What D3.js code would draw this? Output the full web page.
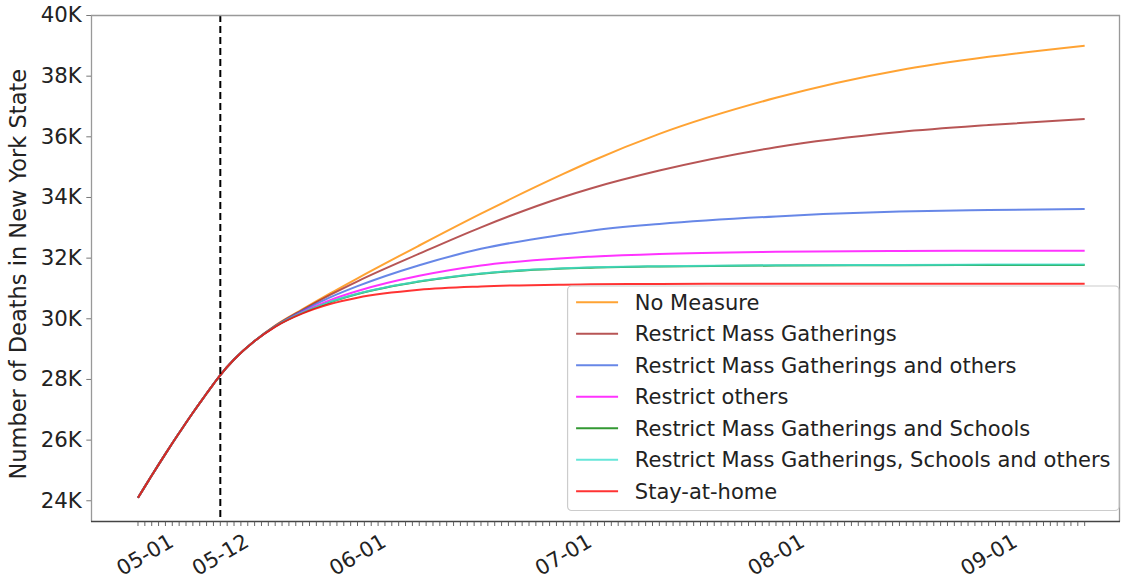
<!DOCTYPE html>
<html>
<head>
<meta charset="utf-8">
<script src="https://cdn.jsdelivr.net/npm/d3@7"></script>
<style>
  body { margin: 0; background: #fff; }
  svg text { font-family: "DejaVu Sans", sans-serif; fill: #222; }
</style>
</head>
<body>
<div id="chart"></div>
<script>
// data (deaths, daily points until 05-12 then sparser)
const commonDates = ["2020-04-30", "2020-05-01", "2020-05-02", "2020-05-03", "2020-05-04",
  "2020-05-05", "2020-05-06", "2020-05-07", "2020-05-08", "2020-05-09", "2020-05-10",
  "2020-05-11", "2020-05-12", "2020-05-14", "2020-05-17"];
const commonValues = [24080, 24450, 24815, 25175, 25530, 25880, 26220, 26555, 26885,
  27205, 27520, 27830, 28130, 28640, 29250];

const tailDates = ["2020-05-20", "2020-05-24", "2020-05-28", "2020-06-01", "2020-06-10",
  "2020-06-19", "2020-07-01", "2020-07-05", "2020-07-15", "2020-08-01", "2020-08-19",
  "2020-09-01", "2020-09-15"];

const noMeasure         = [29760, 30300, 30820, 31320, 32400, 33450, 34760, 35170, 36080, 37270, 38180, 38620, 38990];
const massGatherings    = [29750, 30280, 30770, 31220, 32130, 33000, 34000, 34280, 34870, 35640, 36140, 36370, 36570];
const massAndOthers     = [29740, 30250, 30690, 31060, 31750, 32290, 32760, 32890, 33110, 33360, 33520, 33570, 33600];
const othersOnly        = [29730, 30210, 30600, 30900, 31400, 31740, 31980, 32030, 32120, 32190, 32220, 32230, 32230];
const massAndSchools    = [29730, 30180, 30530, 30800, 31210, 31470, 31640, 31670, 31710, 31740, 31750, 31760, 31760];
const massSchoolsOthers = [29730, 30190, 30540, 30810, 31220, 31480, 31650, 31680, 31720, 31750, 31760, 31770, 31770];
const stayAtHome        = [29720, 30160, 30470, 30680, 30940, 31050, 31110, 31120, 31130, 31140, 31140, 31140, 31140];

const seriesNames = ["No Measure", "Restrict Mass Gatherings", "Restrict Mass Gatherings and others",
  "Restrict others", "Restrict Mass Gatherings and Schools",
  "Restrict Mass Gatherings, Schools and others", "Stay-at-home"];
const seriesValues = [noMeasure, massGatherings, massAndOthers, othersOnly, massAndSchools,
  massSchoolsOthers, stayAtHome];
const seriesColors = ["darkorange", "brown", "royalblue", "magenta", "green", "turquoise", "red"];

const yTicks = [24000, 26000, 28000, 30000, 32000, 34000, 36000, 38000, 40000];
const xTickDates = ["2020-05-01", "2020-05-12", "2020-06-01", "2020-07-01", "2020-08-01", "2020-09-01"];
const xTickLabels = ["05-01", "05-12", "06-01", "07-01", "08-01", "09-01"];
const xDomain = ["2020-04-23T03:36", "2020-09-20T03:36"];
const yDomain = [23300, 40000];
const policyDate = "2020-05-12";

// layout
const W = 1122, H = 581;
const margin = { top: 15, right: 2, bottom: 59.5, left: 91 };
const width = W - margin.left - margin.right;
const height = H - margin.top - margin.bottom;

const parse = d3.utcParse("%Y-%m-%d");
const parseT = d3.utcParse("%Y-%m-%dT%H:%M");
const allDates = commonDates.concat(tailDates).map(parse);

const series = seriesNames.map((name, i) => ({
  name: name,
  color: seriesColors[i],
  points: commonValues.concat(seriesValues[i]).map((v, j) => ({ date: allDates[j], value: v }))
}));

const first = allDates[0], last = allDates[allDates.length - 1];

const x = d3.scaleUtc()
  .domain(xDomain.map(parseT))
  .range([0, width]);

const y = d3.scaleLinear()
  .domain(yDomain)
  .range([height, 0]);

const svg = d3.select("#chart")
  .append("svg")
    .attr("width", W)
    .attr("height", H)
  .append("g")
    .attr("transform", `translate(${margin.left},${margin.top})`);

// lines
const line = d3.line()
  .x(d => x(d.date))
  .y(d => y(d.value))
  .curve(d3.curveMonotoneX);

svg.selectAll(".series")
  .data(series)
  .join("path")
    .attr("class", "series")
    .attr("fill", "none")
    .attr("stroke", d => d.color)
    .attr("stroke-opacity", 0.8)
    .attr("stroke-width", 2)
    .attr("d", d => line(d.points));

// dashed marker at policy date
svg.append("line")
  .attr("x1", x(parse(policyDate)))
  .attr("x2", x(parse(policyDate)))
  .attr("y1", 0)
  .attr("y2", height)
  .attr("stroke", "#000")
  .attr("stroke-width", 2)
  .attr("stroke-dasharray", "7,4");

// spines
svg.append("line").attr("x1", 0).attr("x2", width).attr("y1", 0.5).attr("y2", 0.5)
  .attr("stroke", "#999").attr("stroke-width", 1.3);
svg.append("line").attr("x1", 0.5).attr("x2", 0.5).attr("y1", 0).attr("y2", height)
  .attr("stroke", "#999").attr("stroke-width", 1.3);
svg.append("line").attr("x1", width - 0.5).attr("x2", width - 0.5).attr("y1", 0).attr("y2", height)
  .attr("stroke", "#999").attr("stroke-width", 1.3);
svg.append("line").attr("x1", 0).attr("x2", width).attr("y1", height).attr("y2", height)
  .attr("stroke", "#444").attr("stroke-width", 1.3);

// y axis
const yAxis = svg.append("g")
  .call(d3.axisLeft(y)
    .tickValues(yTicks)
    .tickSize(4.7)
    .tickPadding(4.5)
    .tickFormat(d => d / 1000 + "K"));
yAxis.select(".domain").remove();
yAxis.selectAll(".tick line").attr("stroke", "#777");
yAxis.selectAll(".tick text")
  .style("font-size", "21.3px")
  .style("font-family", "DejaVu Sans, sans-serif")
  .attr("fill", "#222");

// x minor ticks: one per day over the data range
svg.append("g")
  .selectAll("line")
  .data(d3.utcDay.range(first, d3.utcDay.offset(last, 1)))
  .join("line")
    .attr("x1", d => x(d))
    .attr("x2", d => x(d))
    .attr("y1", height)
    .attr("y2", height + 4.5)
    .attr("stroke", "#555")
    .attr("stroke-width", 0.9);

// x tick labels, rotated
svg.append("g")
  .selectAll("text")
  .data(xTickDates.map((d, i) => ({ date: parse(d), label: xTickLabels[i] })))
  .join("text")
    .attr("transform", d => `translate(${x(d.date)},${height + 33}) rotate(-30)`)
    .attr("text-anchor", "middle")
    .attr("dy", "0.35em")
    .style("font-size", "21px")
    .text(d => d.label);

// y axis label
svg.append("text")
  .attr("transform", `translate(${18 - margin.left},${height / 2 + 6}) rotate(-90)`)
  .attr("text-anchor", "middle")
  .attr("dy", "0.35em")
  .style("font-size", "22.5px")
  .text("Number of Deaths in New York State");

// legend
const fs = 21;
const rowH = 31.5;
const legend = svg.append("g");
const box = legend.append("rect")
  .attr("rx", 4)
  .attr("fill", "#fff")
  .attr("fill-opacity", 0.8)
  .attr("stroke", "#ccc")
  .attr("stroke-width", 1.2);

const rows = legend.selectAll(".row")
  .data(series)
  .join("g")
    .attr("class", "row")
    .attr("transform", (d, i) => `translate(0,${i * rowH})`);

rows.append("line")
  .attr("x1", 8.5).attr("x2", 8.5 + 2 * fs)
  .attr("y1", 0).attr("y2", 0)
  .attr("stroke", d => d.color)
  .attr("stroke-opacity", 0.8)
  .attr("stroke-width", 2);

rows.append("text")
  .attr("x", 8.5 + 2.8 * fs)
  .attr("dy", "0.35em")
  .style("font-size", fs + "px")
  .text(d => d.name);

let maxLen = 0;
rows.selectAll("text").each(function () { maxLen = Math.max(maxLen, this.getComputedTextLength()); });
const boxW = 8.5 + 2.8 * fs + maxLen + 8.5;
const boxH = rowH * series.length + 4;
box.attr("x", 0).attr("y", -rowH / 2 - 0.5).attr("width", boxW).attr("height", boxH);
legend.attr("transform", `translate(${width - 1 - boxW},${height - 11 - boxH + rowH / 2 + 0.5})`);
</script>
</body>
</html>
